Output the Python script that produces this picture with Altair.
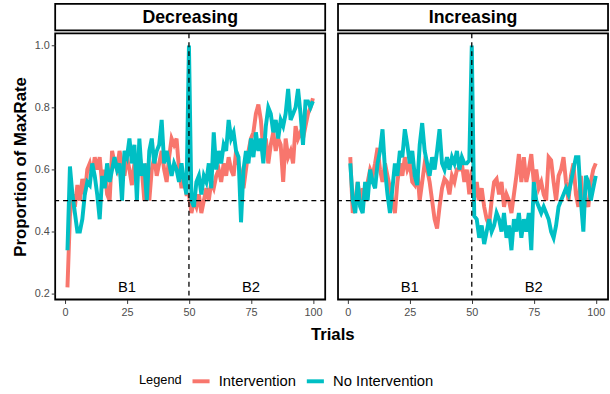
import altair as alt
import pandas as pd

F = "Liberation Sans"

trials = list(range(1, 101))
conditions = ["Decreasing", "Increasing"]
groups = ["Intervention", "No Intervention"]
colors = ["#F8766D", "#00BFC4"]

dec_int = [
    0.22, 0.45, 0.52, 0.48, 0.55, 0.50, 0.57, 0.52, 0.60, 0.62,
    0.58, 0.64, 0.60, 0.64, 0.55, 0.60, 0.52, 0.50, 0.66, 0.62,
    0.60, 0.66, 0.62, 0.58, 0.64, 0.60, 0.55, 0.62, 0.58, 0.65,
    0.60, 0.50, 0.62, 0.50, 0.60, 0.64, 0.58, 0.62, 0.66, 0.60,
    0.56, 0.64, 0.70, 0.68, 0.70, 0.60, 0.54, 0.58, 0.52, 0.52,
    0.46, 0.50, 0.48, 0.52, 0.46, 0.50, 0.54, 0.50, 0.56, 0.54,
    0.58, 0.60, 0.56, 0.62, 0.58, 0.64, 0.60, 0.58, 0.66, 0.62,
    0.58, 0.54, 0.60, 0.66, 0.70, 0.72, 0.78, 0.81, 0.76, 0.66,
    0.70, 0.62, 0.68, 0.72, 0.66, 0.70, 0.68, 0.56, 0.70, 0.64,
    0.66, 0.62, 0.74, 0.70, 0.72, 0.70, 0.74, 0.78, 0.80, 0.83,
]
dec_noint = [
    0.34, 0.61, 0.52, 0.46, 0.40, 0.40, 0.44, 0.52, 0.56, 0.55,
    0.62, 0.58, 0.52, 0.44, 0.58, 0.54, 0.62, 0.56, 0.60, 0.64,
    0.60, 0.62, 0.50, 0.66, 0.64, 0.70, 0.62, 0.68, 0.50, 0.70,
    0.58, 0.62, 0.50, 0.66, 0.70, 0.62, 0.66, 0.68, 0.76, 0.62,
    0.66, 0.62, 0.58, 0.62, 0.60, 0.56, 0.62, 0.56, 0.52, 1.00,
    0.50, 0.48, 0.56, 0.58, 0.52, 0.58, 0.56, 0.62, 0.54, 0.72,
    0.60, 0.66, 0.62, 0.68, 0.66, 0.76, 0.70, 0.72, 0.66, 0.64,
    0.43, 0.60, 0.66, 0.62, 0.70, 0.64, 0.72, 0.66, 0.70, 0.62,
    0.74, 0.80, 0.78, 0.72, 0.76, 0.70, 0.76, 0.74, 0.78, 0.86,
    0.76, 0.78, 0.80, 0.86, 0.78, 0.68, 0.82, 0.82, 0.80, 0.82,
]
inc_int = [
    0.64, 0.46, 0.50, 0.56, 0.48, 0.54, 0.50, 0.56, 0.60, 0.58,
    0.62, 0.67, 0.60, 0.56, 0.62, 0.58, 0.54, 0.50, 0.46, 0.56,
    0.62, 0.58, 0.64, 0.60, 0.62, 0.56, 0.55, 0.60, 0.50, 0.56,
    0.62, 0.60, 0.56, 0.50, 0.44, 0.41, 0.48, 0.54, 0.57, 0.56,
    0.52, 0.58, 0.56, 0.60, 0.60, 0.62, 0.56, 0.60, 0.52, 0.60,
    0.50, 0.56, 0.50, 0.54, 0.48, 0.44, 0.42, 0.50, 0.56, 0.57,
    0.52, 0.56, 0.48, 0.52, 0.50, 0.46, 0.52, 0.58, 0.65, 0.56,
    0.64, 0.56, 0.60, 0.65, 0.56, 0.60, 0.54, 0.56, 0.52, 0.50,
    0.64, 0.63, 0.56, 0.50, 0.58, 0.60, 0.64, 0.56, 0.50, 0.58,
    0.62, 0.52, 0.48, 0.58, 0.47, 0.50, 0.48, 0.56, 0.60, 0.62,
]
inc_noint = [
    0.62, 0.50, 0.46, 0.56, 0.48, 0.46, 0.56, 0.50, 0.60, 0.56,
    0.54, 0.62, 0.66, 0.73, 0.60, 0.52, 0.46, 0.54, 0.62, 0.58,
    0.66, 0.64, 0.73, 0.68, 0.62, 0.66, 0.58, 0.55, 0.68, 0.75,
    0.66, 0.62, 0.58, 0.64, 0.60, 0.66, 0.73, 0.62, 0.60, 0.64,
    0.60, 0.64, 0.62, 0.66, 0.60, 0.64, 0.62, 0.62, 0.63, 1.00,
    0.45, 0.44, 0.38, 0.42, 0.36, 0.40, 0.44, 0.40, 0.42, 0.46,
    0.44, 0.40, 0.46, 0.38, 0.42, 0.34, 0.44, 0.40, 0.46, 0.38,
    0.44, 0.40, 0.46, 0.34, 0.56, 0.50, 0.48, 0.46, 0.48, 0.46,
    0.44, 0.40, 0.38, 0.42, 0.48, 0.50, 0.52, 0.54, 0.52, 0.56,
    0.60, 0.64, 0.64, 0.50, 0.40, 0.58, 0.56, 0.50, 0.54, 0.58,
]

block_labels = ["B1", "B2"]
block_trials = [25, 75]
block_level = [0.22, 0.22]

series = {
    ("Decreasing", "Intervention"): dec_int,
    ("Decreasing", "No Intervention"): dec_noint,
    ("Increasing", "Intervention"): inc_int,
    ("Increasing", "No Intervention"): inc_noint,
}
rows = []
for (cond, grp), vals in series.items():
    for t, v in zip(trials, vals):
        rows.append({"Condition": cond, "Legend": grp, "Trial": t, "Proportion": v})
df = pd.DataFrame(rows)
blocks = pd.DataFrame({"label": block_labels, "Trial": block_trials, "Proportion": block_level})

W, H = 274, 270
xscale = alt.Scale(domain=[-3.95, 104.95], nice=False, zero=False)
yscale = alt.Scale(domain=[0.181, 1.039], nice=False, zero=False)


def panel(cond, show_y):
    xax = alt.Axis(values=[0, 25, 50, 75, 100], title=None, grid=False, domain=False,
                   labelColor="#4D4D4D", labelFontSize=11, labelFont=F, tickColor="#333333",
                   tickSize=4, labelPadding=3)
    if show_y:
        yax = alt.Axis(values=[0.2, 0.4, 0.6, 0.8, 1.0], format=".1f", title="Proportion of MaxRate",
                       grid=False, domain=False, labelColor="#4D4D4D", labelFontSize=11, labelFont=F,
                       tickColor="#333333", tickSize=4, titleFontSize=17, titleFont=F,
                       titleFontWeight="bold", titleColor="black", titlePadding=5)
    else:
        yax = None
    x = alt.X("Trial:Q", scale=xscale, axis=xax)
    y = alt.Y("Proportion:Q", scale=yscale, axis=yax)
    d = df[df.Condition == cond]
    lines = alt.Chart(d).mark_line(strokeWidth=4, clip=True).encode(
        x=x, y=y,
        color=alt.Color("Legend:N", scale=alt.Scale(domain=groups, range=colors),
                        legend=alt.Legend(title="Legend", orient="none", direction="horizontal",
                                          legendX=85, legendY=372, titleOrient="left",
                                          titleFontSize=13, titleFontWeight="normal", titleFont=F,
                                          titleColor="black", labelFontSize=15, labelFont=F,
                                          labelColor="black", symbolType="stroke",
                                          symbolStrokeWidth=4, symbolSize=300, columnPadding=2,
                                          labelOffset=7, titlePadding=8)),
        detail="Legend:N",
    )
    hline = alt.Chart(pd.DataFrame({"Proportion": [0.5]})).mark_rule(
        strokeDash=[5, 4], color="black", strokeWidth=1.3).encode(y=y)
    vline = alt.Chart(pd.DataFrame({"Trial": [50]})).mark_rule(
        strokeDash=[5, 4], color="black", strokeWidth=1.3).encode(x=x)
    text = alt.Chart(blocks).mark_text(fontSize=15, font=F, color="black").encode(
        x=x, y=y, text="label:N")
    p = alt.layer(lines, vline, hline, text).properties(width=W, height=H)
    strip = alt.Chart(pd.DataFrame({"t": [cond]})).mark_text(
        fontSize=18, fontWeight="bold", font=F, color="black", baseline="middle").encode(
        text="t:N", x=alt.value(W / 2), y=alt.value(14)).properties(width=W, height=27)
    return alt.vconcat(strip, p, spacing=0)


row = alt.hconcat(panel("Decreasing", True), panel("Increasing", False), spacing=9,
                  title=alt.TitleParams("Trials", orient="bottom", anchor="middle", fontSize=17,
                                        fontWeight="bold", font=F, color="black", offset=9, dx=23))

chart = alt.vconcat(row).properties(
    padding={"left": 10, "top": 0, "right": 0, "bottom": 5}
).configure_view(stroke="black", strokeWidth=1.8).configure_concat(spacing=0)

chart.save("out.html", embed_options={"renderer": "svg", "actions": False})
